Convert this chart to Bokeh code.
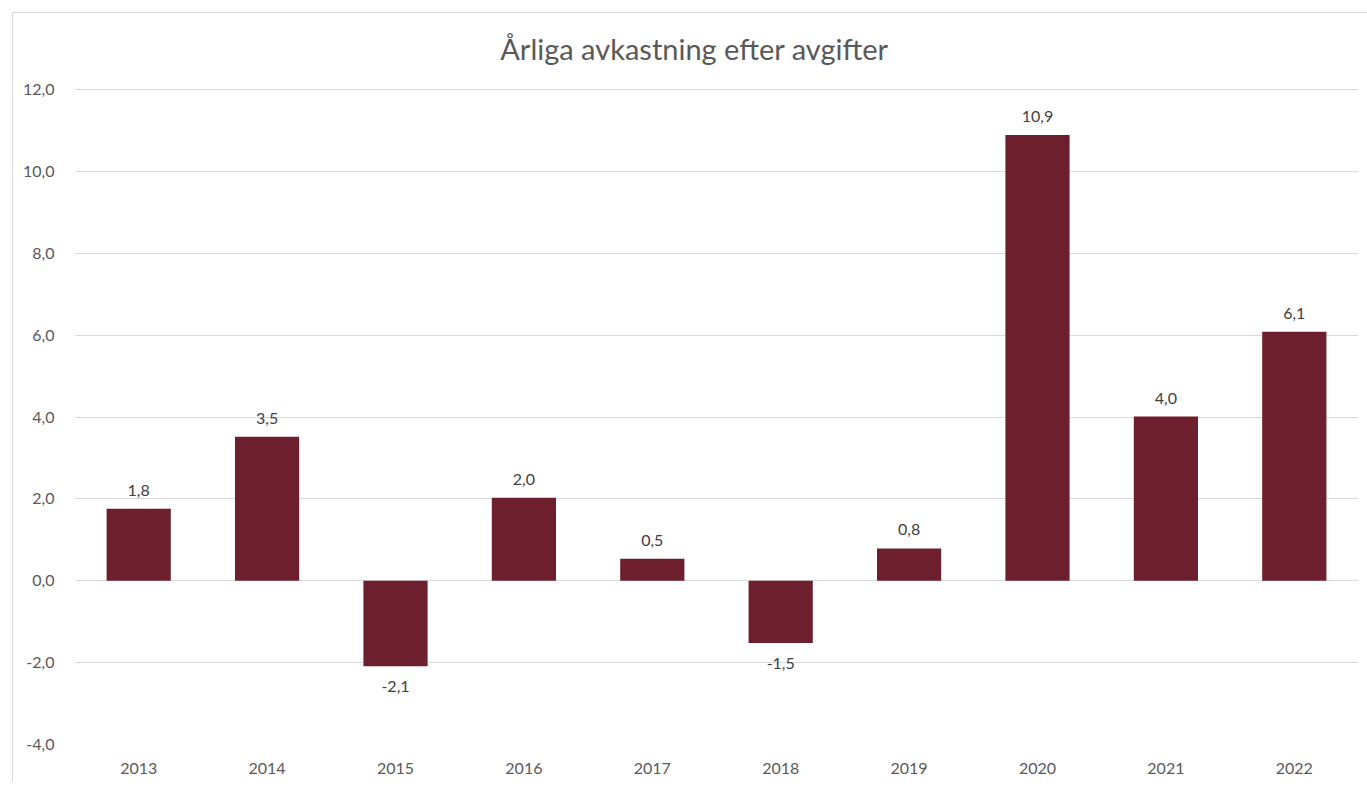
from bokeh.plotting import figure
from bokeh.models import ColumnDataSource, LabelSet, Label, CustomJSTickFormatter, FixedTicker, Range1d
from bokeh.core.properties import value
from bokeh.embed import file_html
from bokeh.resources import INLINE

years = ["2013", "2014", "2015", "2016", "2017", "2018", "2019", "2020", "2021", "2022"]
returns = [1.76, 3.52, -2.09, 2.03, 0.54, -1.52, 0.79, 10.89, 4.01, 6.08]
y_ticks = [-4, -2, 0, 2, 4, 6, 8, 10, 12]
title_text = "Årliga avkastning efter avgifter"

BAR = "#6D1F2E"
TXT = "#595959"
LBL = "#404040"
GRID = "#D9D9D9"
FONT = "Lato"

def fmt(v):
    return f"{v:.1f}".replace(".", ",")

pos = [(y, v, fmt(v)) for y, v in zip(years, returns) if v >= 0]
neg = [(y, v, fmt(v)) for y, v in zip(years, returns) if v < 0]

src = ColumnDataSource(dict(x=years, top=returns))
src_pos = ColumnDataSource(dict(x=[a[0] for a in pos], y=[a[1] for a in pos], t=[a[2] for a in pos]))
src_neg = ColumnDataSource(dict(x=[a[0] for a in neg], y=[a[1] for a in neg], t=[a[2] for a in neg]))

# plot frame extends above the last gridline to leave room for the title inside it
px_per_unit = 655 / 16.0
y_top = 12 + 66 / px_per_unit

p = figure(x_range=years, y_range=Range1d(-4, y_top), width=1355, height=770,
           output_backend="svg", toolbar_location=None,
           min_border_left=61, min_border_right=10, min_border_top=10, min_border_bottom=39,
           margin=(12, 0, 0, 12),
           styles={"border-top": "1px solid #D9D9D9", "border-left": "1px solid #D9D9D9"})
p.outline_line_color = None
p.background_fill_color = "white"
p.border_fill_color = "white"

# x=len(years)/2 is the centre of the category axis
p.add_layout(Label(x=len(years) / 2, y=12, x_offset=-22, y_offset=41, text=title_text,
                   text_align="center", text_baseline="middle", text_color=TXT,
                   text_font=FONT, text_font_size="29px"))

p.vbar(x="x", top="top", bottom=0, width=0.5, source=src, fill_color=BAR, line_color=None)

p.add_layout(LabelSet(x="x", y="y", text="t", source=src_pos, text_align="center",
                      text_baseline="bottom", y_offset=13, text_color=LBL,
                      text_font=value(FONT), text_font_size="16px"))
p.add_layout(LabelSet(x="x", y="y", text="t", source=src_neg, text_align="center",
                      text_baseline="top", y_offset=-15, text_color=LBL,
                      text_font=value(FONT), text_font_size="16px"))

p.xgrid.grid_line_color = None
p.ygrid.grid_line_color = GRID
p.ygrid.grid_line_width = 1
p.yaxis.ticker = FixedTicker(ticks=y_ticks)
p.yaxis.formatter = CustomJSTickFormatter(code="return tick.toFixed(1).replace('.', ',');")

for ax in (p.xaxis, p.yaxis):
    ax.axis_line_color = None
    ax.major_tick_line_color = None
    ax.minor_tick_line_color = None
    ax.major_label_text_color = TXT
    ax.major_label_text_font = FONT
    ax.major_label_text_font_size = "16px"
p.yaxis.major_label_standoff = 14
p.xaxis.major_label_standoff = 12

open("out.html", "w").write(file_html(p, INLINE))
